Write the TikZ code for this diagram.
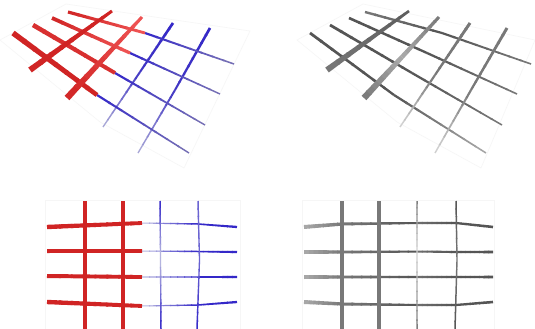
\documentclass[tikz,border=0pt]{standalone}
\usetikzlibrary{calc}
\definecolor{rd}{RGB}{208,36,36}
\definecolor{rdl}{RGB}{240,85,85}
\definecolor{bl}{RGB}{52,40,200}
\definecolor{blf}{RGB}{120,115,180}
\definecolor{blff}{RGB}{190,190,225}
\definecolor{gd}{RGB}{85,85,85}
\definecolor{gm}{RGB}{120,120,120}
\definecolor{gl}{RGB}{170,170,170}
\definecolor{gff}{RGB}{215,215,215}
\tikzset{plane/.style={draw=gray!7,line width=0.6pt}}
% tapered bar from #1 to #2, widths #3 -> #4, colour #5 -> #6
\newcommand\gbar[6]{%
 \foreach \i in {0,...,7}{%
  \pgfmathsetmacro\ta{\i/8}%
  \pgfmathsetmacro\tb{min(1,(\i+1)/8+0.02)}%
  \pgfmathsetmacro\wa{(#3+(#4-#3)*\ta)/2}%
  \pgfmathsetmacro\wb{(#3+(#4-#3)*\tb)/2}%
  \pgfmathtruncatemacro\pc{100-100*(\i+0.5)/8}%
  \coordinate (pa) at ($(#1)!\ta!(#2)$);%
  \coordinate (pb) at ($(#1)!\tb!(#2)$);%
  \fill[#5!\pc!#6] ($(pa)!\wa pt!90:(pb)$) -- ($(pb)!\wb pt!-90:(pa)$) -- ($(pb)!\wb pt!90:(pa)$) -- ($(pa)!\wa pt!-90:(pb)$) -- cycle;%
 }}
\begin{document}
\begin{tikzpicture}[x=1pt,y=-1pt]
\useasboundingbox (0,0) rectangle (535,329);
\fill[white] (0,0) rectangle (535,329);
% ---------------- top left ----------------
\draw[plane] (0,40) -- (100,122) -- (184,168) -- (250,31) -- (66,4) -- cycle;
% blue verticals
\gbar{103,127}{140,72}{1.3}{2}{blff}{bl!80!blf}
\gbar{140,72}{173,23}{2}{2.7}{bl!80!blf}{bl}
\gbar{138,153}{175,90}{1.3}{2}{blff}{bl!80!blf}
\gbar{175,90}{210,28}{2}{2.7}{bl!80!blf}{bl}
% blue horizontals
\gbar{97,95}{189,153}{2.2}{1.4}{bl}{blf}
\gbar{115,73}{205,125}{2.2}{1.4}{bl}{blf}
\gbar{130,53}{220,94}{2.2}{1.4}{bl}{blf}
\gbar{145,33}{234,64}{2.2}{1.5}{bl}{blf}
% red horizontals
\gbar{13,33}{97,95}{5.5}{4.5}{rd}{rd}
\gbar{33,25}{115,73}{4.6}{3.8}{rd}{rd!75!rdl}
\gbar{52,18}{130,53}{3.8}{3.2}{rd}{rdl}
\gbar{68,12}{145,33}{3.2}{2.8}{rd}{rdl}
% red verticals
\gbar{30,70}{112,11}{6}{3}{rd}{rd}
\gbar{67,98}{142,17}{6.5}{3}{rd}{rdl}
% ---------------- top right ----------------
\draw[plane] (297,40) -- (397,122) -- (481,168) -- (535,40) -- (363,4) -- cycle;
\gbar{310,33}{394,95}{2.8}{2.3}{gd}{gd}
\gbar{394,95}{486,153}{2.3}{1.5}{gd}{gl}
\gbar{330,25}{412,73}{2.8}{2.3}{gd}{gd}
\gbar{412,73}{502,125}{2.3}{1.5}{gd}{gm}
\gbar{349,18}{427,53}{2.6}{2.3}{gd}{gd}
\gbar{427,53}{517,94}{2.3}{1.6}{gd}{gm}
\gbar{365,12}{442,33}{2.4}{2.2}{gm}{gd}
\gbar{442,33}{531,64}{2.2}{1.6}{gd}{gm}
% grey verticals
\gbar{327,70}{409,11}{6}{2.6}{gm}{gd!80!gm}
\gbar{364,98}{402,57}{6.5}{4.5}{gm}{gl}
\gbar{402,57}{439,17}{4.5}{3}{gl}{gm}
\gbar{400,127}{435,75}{1.4}{2.2}{gff}{gm}
\gbar{435,75}{470,23}{2.2}{3}{gm}{gm}
\gbar{435,153}{471,90}{1.4}{2.2}{gff}{gm}
\gbar{471,90}{507,28}{2.2}{3}{gm}{gm}
% ---------------- bottom left ----------------
\draw[plane] (45,335) -- (45,200) -- (240,200) -- (240,335);
% blue horizontals
\gbar{142,223}{198,224}{1}{1.5}{blff}{bl}
\gbar{198,224}{237,227}{1.5}{2.3}{bl}{bl}
\gbar{142,251}{198,251.5}{1}{1.5}{blff}{bl}
\gbar{198,251.5}{237,252}{1.5}{2.3}{bl}{bl}
\gbar{142,277}{198,277}{1}{1.5}{blff}{bl}
\gbar{198,277}{237,277}{1.5}{2.3}{bl}{bl}
\gbar{142,306}{198,305}{1}{1.5}{blff}{bl}
\gbar{198,305}{237,302}{1.5}{2.3}{bl}{bl}
% blue verticals
\gbar{160,201}{160.5,258}{1.5}{1.3}{bl}{blff}
\gbar{160.5,258}{161,329}{1.3}{1.5}{blff}{bl}
\gbar{198,201}{199.5,260}{1.5}{1.3}{bl}{bl!60!blff}
\gbar{199.5,260}{197,329}{1.3}{1.5}{bl!60!blff}{bl}
% red horizontals
\gbar{47,227}{142,223}{4.4}{3.8}{rd}{rd}
\gbar{47,251}{142,251}{4}{3.8}{rd}{rd}
\gbar{47,276}{142,277}{4}{3.8}{rd}{rd}
\gbar{47,302}{142,306}{4.4}{3.8}{rd}{rd}
% red verticals
\gbar{85,201}{85,329}{4.4}{4.4}{rd}{rd}
\gbar{123,201}{123,329}{4.4}{4.4}{rd}{rd}
% ---------------- bottom right ----------------
\draw[plane] (302,335) -- (302,200) -- (494,200) -- (494,335);
\foreach \y/\ya/\yb/\yc/\yd in {227/224/223/223/227, 252/252/251.5/252/252, 277/277/277/277/277, 302/304/305/305/302}{
 \gbar{304,\y}{342,\ya}{4}{3.2}{gl}{gm}
 \gbar{342,\ya}{417,\yb}{3}{2}{gm}{gd}
 \gbar{417,\yb}{456,\yc}{2}{2.2}{gd!70!gl}{gd}
 \gbar{456,\yc}{493,\yd}{2.2}{2.6}{gd}{gd}
}
\gbar{342,201}{342,329}{4.6}{4.6}{gm}{gm}
\gbar{379,201}{379,329}{4.6}{4.6}{gm}{gm}
\gbar{417,201}{417,252}{1.5}{1.3}{gm}{gff}
\gbar{417,252}{417,329}{1.3}{1.5}{gff}{gm}
\gbar{456,201}{457,260}{1.5}{1.4}{gd}{gm}
\gbar{457,260}{455,329}{1.4}{1.5}{gm}{gd}
\end{tikzpicture}
\end{document}
